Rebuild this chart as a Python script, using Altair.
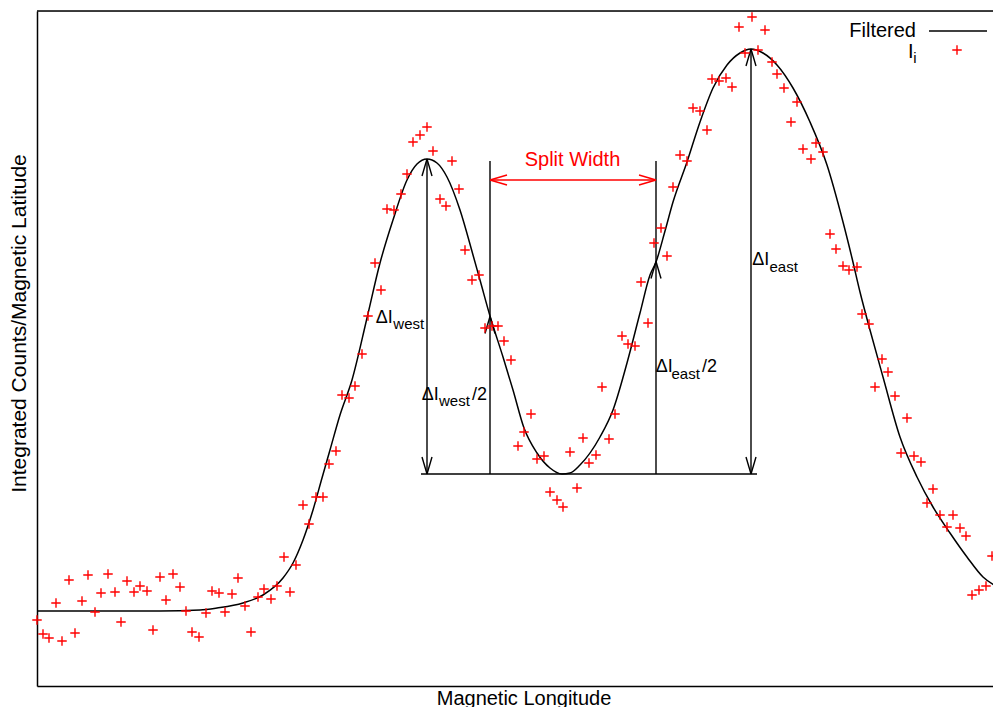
import altair as alt
import pandas as pd

# ---------------- data (units: arbitrary longitude / counts) ----------------
# Filtered curve
curve_lon = [0, 63, 123, 163, 180, 206, 226, 246, 256, 266, 276, 285, 293, 303,
             315, 330, 343, 356, 370, 380, 390, 400, 410, 423, 436, 443, 453,
             466, 476, 487, 500, 513, 525, 533, 543, 563, 576, 590, 603, 613,
             619, 628, 636, 650, 663, 676, 690, 703, 714, 726, 740, 756, 773,
             790, 806, 815, 823, 833, 846, 863, 880, 896, 913, 930, 946, 963]
curve_val = [75, 75, 75, 76, 78, 83, 91, 108, 123, 146, 176, 208, 236, 271,
             306, 368, 423, 466, 506, 522, 527, 523, 509, 476, 431, 406, 370,
             329, 296, 258, 233, 218, 212, 213, 221, 249, 276, 323, 373, 411,
             424, 455, 484, 524, 564, 598, 621, 633, 637, 633, 621, 598, 564,
             521, 464, 428, 394, 356, 309, 249, 209, 179, 153, 129, 109, 98]

# Raw samples I_i
pts_lon = [0, 6, 12, 25, 38, 19, 32, 45, 51, 58, 64, 71, 78, 84, 90, 97, 103,
           110, 116, 123, 129, 136, 143, 149, 155, 162, 169, 175, 182, 188, 195,
           201, 208, 214, 221, 227, 234, 240, 247, 253, 259, 266, 272, 279, 286,
           292, 299, 305, 312, 318, 325, 331, 338, 344, 350, 357, 364, 370, 376,
           383, 390, 396, 403, 409, 415, 422, 428, 435, 442, 448, 455, 461, 467,
           474, 481, 487, 494, 500, 507, 513, 520, 526, 533, 540, 546, 552, 559,
           565, 572, 578, 585, 591, 598, 611, 604, 617, 624, 630, 636, 643, 650,
           656, 663, 670, 675, 682, 689, 695, 702, 708, 715, 721, 728, 735, 740,
           747, 754, 760, 766, 774, 779, 786, 793, 799, 806, 812, 820, 825, 832,
           838, 845, 851, 858, 870, 864, 877, 884, 896, 890, 903, 916, 910, 923,
           929, 955, 935, 942, 949, 961]
pts_val = [66, 52, 48, 45, 53, 83, 106, 85, 111, 74, 93, 112, 94, 64, 105, 94,
           100, 95, 56, 109, 86, 112, 99, 75, 54, 49, 73, 95, 93, 74, 92, 108,
           80, 54, 89, 97, 87, 100, 129, 94, 121, 181, 162, 189, 189, 222, 235,
           291, 288, 300, 332, 370, 423, 396, 477, 476, 492, 512, 544, 551, 559,
           535, 487, 480, 525, 497, 436, 406, 411, 358, 360, 360, 345, 326, 240,
           254, 272, 227, 230, 194, 186, 179, 234, 198, 248, 223, 231, 299, 247,
           272, 350, 342, 340, 363, 404, 443, 458, 430, 499, 531, 525, 578, 575,
           556, 607, 605, 608, 599, 659, 633, 669, 636, 656, 624, 612, 598, 564,
           584, 537, 527, 543, 534, 452, 437, 420, 416, 419, 372, 362, 299, 327,
           314, 290, 268, 233, 230, 224, 197, 183, 171, 171, 159, 158, 150, 130,
           91, 96, 100, 76]

# Annotation levels
base_level = 212
base_from, base_to = 384, 720
west_peak_lon, west_peak = 390, 527
east_peak_lon, east_peak = 714, 637
west_half_lon, east_half_lon = 453, 619
split_top = 525
split_level = 506

# ---------------- build tables ----------------
XD = [0, 964]
YD = [0, 675]
xs = alt.Scale(domain=XD, nice=False, zero=False)
ys = alt.Scale(domain=YD, nice=False, zero=False)

FONT = "Liberation Sans"
x_axis = alt.Axis(title="Magnetic Longitude", labels=False, ticks=False, grid=False,
                  domain=True, domainColor="black", domainWidth=1.5,
                  titleFont=FONT, titleFontSize=20, titleFontWeight="normal",
                  titleColor="black", titleX=486.5, titleY=18,
                  titleBaseline="alphabetic", titleAlign="center")
y_axis = alt.Axis(title="Integrated Counts/Magnetic Latitude", labels=False, ticks=False,
                  grid=False, domain=True, domainColor="black", domainWidth=1.5,
                  titleFont=FONT, titleFontSize=21, titleFontWeight="normal",
                  titleColor="black", titleAngle=270, titleX=-12, titleY=312,
                  titleBaseline="alphabetic", titleAlign="center")

def X(f="x"):
    return alt.X(f"{f}:Q", scale=xs, axis=x_axis)

def Y(f="y"):
    return alt.Y(f"{f}:Q", scale=ys, axis=y_axis)

curve_df = pd.DataFrame({"x": curve_lon, "y": curve_val})
pts_df = pd.DataFrame({"x": pts_lon, "y": pts_val})

west_half = base_level + (west_peak - base_level) / 2
east_half = base_level + (east_peak - base_level) / 2

HL, HW = 17, 5  # arrowhead length / half-width


def head(ax, ay, dx, dy, color):
    # dx, dy: unit direction the arrow points to
    bx, by = ax - dx * HL, ay - dy * HL
    px, py = -dy * HW, dx * HW
    return [dict(x=ax, y=ay, x2=bx + px, y2=by + py, c=color),
            dict(x=ax, y=ay, x2=bx - px, y2=by - py, c=color)]


segs = []
K = "black"
R = "red"
segs.append(dict(x=base_from, y=base_level, x2=base_to, y2=base_level, c=K))
# west full arrow
segs.append(dict(x=west_peak_lon, y=base_level, x2=west_peak_lon, y2=west_peak, c=K))
segs += head(west_peak_lon, west_peak, 0, 1, K)
segs += head(west_peak_lon, base_level, 0, -1, K)
# east full arrow
segs.append(dict(x=east_peak_lon, y=base_level, x2=east_peak_lon, y2=east_peak, c=K))
segs += head(east_peak_lon, east_peak, 0, 1, K)
segs += head(east_peak_lon, base_level, 0, -1, K)
# half-width lines
segs.append(dict(x=west_half_lon, y=base_level, x2=west_half_lon, y2=split_top, c=K))
segs += head(west_half_lon, west_half, 0, 1, K)
segs.append(dict(x=east_half_lon, y=base_level, x2=east_half_lon, y2=split_top, c=K))
segs += head(east_half_lon, east_half, 0, 1, K)
# split width arrow
segs.append(dict(x=west_half_lon, y=split_level, x2=east_half_lon, y2=split_level, c=R))
segs += head(west_half_lon, split_level, -1, 0, R)
segs += head(east_half_lon, split_level, 1, 0, R)
# legend line
segs.append(dict(x=892, y=655, x2=950, y2=655, c=K))
seg_df = pd.DataFrame(segs)

# text pieces (x start, baseline y)
txt_left = pd.DataFrame([
    dict(x=338.7, y=362.7, t="ΔI", s=18, c=K),
    dict(x=356.3, y=357.5, t="west", s=15, c=K),
    dict(x=384.7, y=286, t="ΔI", s=18, c=K),
    dict(x=402, y=280.5, t="west", s=15, c=K),
    dict(x=435, y=286, t="/2", s=18, c=K),
    dict(x=618.7, y=314, t="ΔI", s=18, c=K),
    dict(x=634.5, y=307, t="east", s=15, c=K),
    dict(x=665, y=314, t="/2", s=18, c=K),
    dict(x=715.3, y=421, t="ΔI", s=18, c=K),
    dict(x=732.5, y=414.5, t="east", s=15, c=K),
    dict(x=871, y=627.7, t="I", s=20, c=K),
    dict(x=876.3, y=622.7, t="i", s=15, c=K),
])
txt_center = pd.DataFrame([dict(x=535.5, y=520, t="Split Width", s=20, c=R)])
txt_right = pd.DataFrame([dict(x=879, y=648.7, t="Filtered", s=20, c=K)])
legend_pt = pd.DataFrame({"x": [920], "y": [636]})

PLUS = "M-1,0L1,0M0,-1L0,1"

curve = alt.Chart(curve_df).mark_line(color="black", strokeWidth=1.5,
                                      interpolate="monotone").encode(x=X(), y=Y())
points = alt.Chart(pts_df).mark_point(shape=PLUS, filled=False, color="red",
                                      strokeWidth=1.4, size=90, opacity=1).encode(x=X(), y=Y())
lpoint = alt.Chart(legend_pt).mark_point(shape=PLUS, filled=False, color="red",
                                         strokeWidth=1.4, size=90, opacity=1).encode(x=X(), y=Y())
rules = alt.Chart(seg_df).mark_rule(strokeWidth=1.4).encode(
    x=X(), y=Y(), x2="x2:Q", y2="y2:Q",
    color=alt.Color("c:N", scale=None))


def texts(df, align):
    return alt.Chart(df).mark_text(align=align, baseline="alphabetic", font=FONT).encode(
        x=X(), y=Y(), text="t:N",
        size=alt.Size("s:Q", scale=None),
        color=alt.Color("c:N", scale=None))


top_line = alt.Chart(pd.DataFrame({"a": [0]})).mark_rule(color="black", strokeWidth=1.5).encode(
    x=alt.value(0), x2=alt.value(964), y=alt.value(0))

chart = alt.layer(curve, rules, points, lpoint, top_line,
                  texts(txt_left, "left"), texts(txt_center, "center"),
                  texts(txt_right, "right")).properties(
    width=964, height=675,
    autosize=alt.AutoSizeParams(type="none"),
    padding={"left": 29, "top": 3, "right": -8, "bottom": 21},
).configure_view(stroke=None).configure(background="white")

chart.save("out.html", embed_options={"renderer": "svg", "actions": False})
